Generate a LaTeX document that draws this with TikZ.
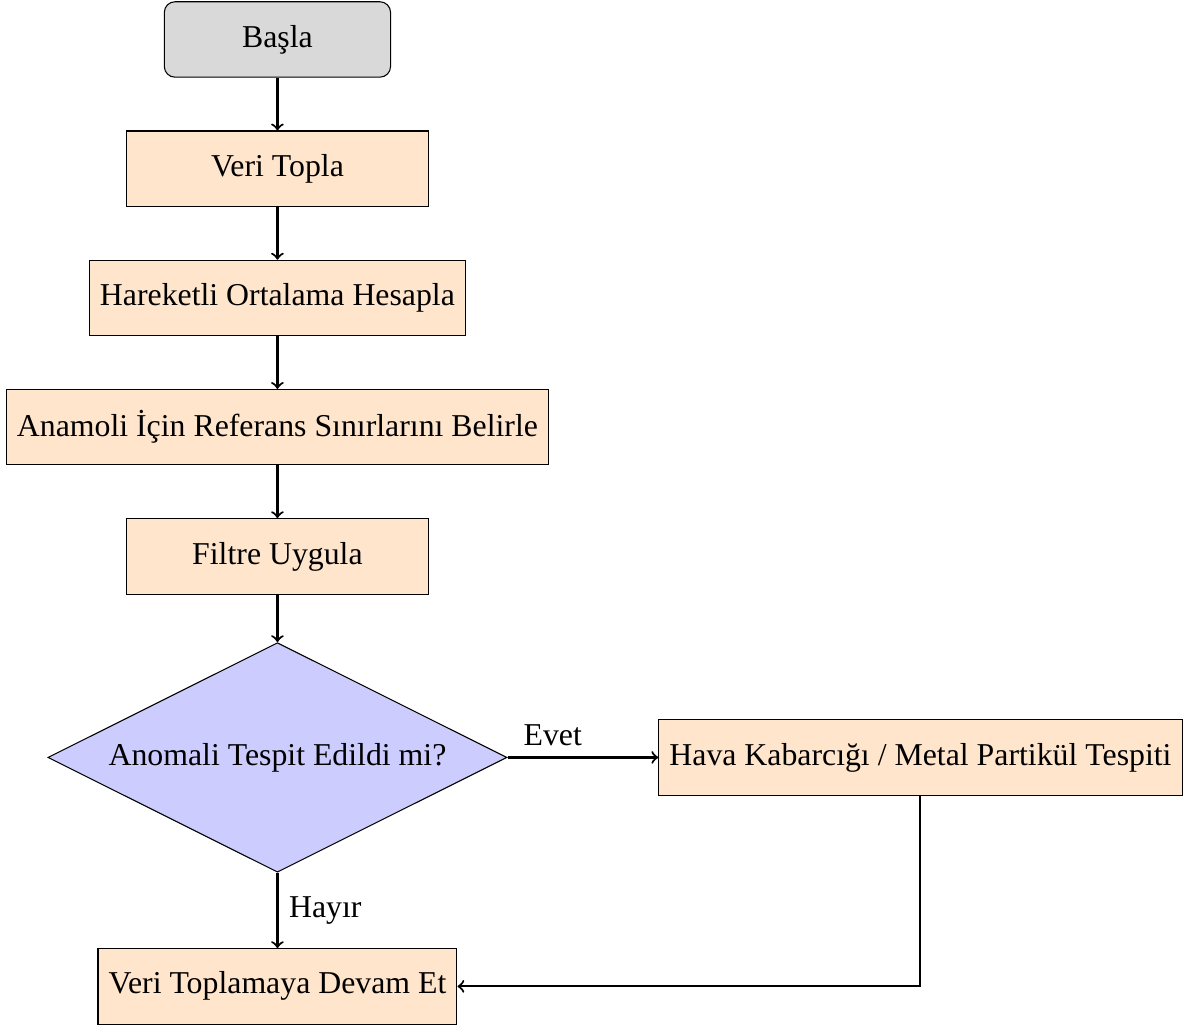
\documentclass[tikz,border=0pt,12pt]{standalone}
\usepackage{fontspec}
\setmainfont{Liberation Serif}
\usepackage{tikz}
\usetikzlibrary{positioning, shapes.geometric, arrows}

\begin{document}
\begin{tikzpicture}[node distance=0.7cm,
  startstop/.style={draw, rounded corners, fill=gray!30, minimum width=3cm, minimum height=1cm},
  process/.style={draw, rectangle, fill=orange!20, minimum width=4cm, minimum height=1cm},
  decision/.style={draw, diamond, aspect=2, fill=blue!20},
  arrow/.style={->, thick}]
\node[startstop] (basla) at (0,0) {Başla};
\node[process, below=of basla] (veri) {Veri Topla};
\node[process, below=of veri] (ortalama) {Hareketli Ortalama Hesapla};
\node[process, below=of ortalama] (sinir) {Anamoli İçin Referans Sınırlarını Belirle};
\node[process, below=of sinir] (filtre) {Filtre Uygula};
\node[decision, below=0.63cm of filtre] (karar) {Anomali Tespit Edildi mi?};
\node[process, right=2cm of karar] (tespit) {Hava Kabarcığı / Metal Partikül Tespiti};
\node[process, below=1cm of karar] (devam) {Veri Toplamaya Devam Et};

% picture margins
\useasboundingbox (-104.7pt,14.9pt) rectangle (345.5pt,-371.9pt);

\draw[arrow] (basla) -- (veri);
\draw[arrow] (veri) -- (ortalama);
\draw[arrow] (ortalama) -- (sinir);
\draw[arrow] (sinir) -- (filtre);
\draw[arrow] (filtre) -- (karar);
\draw[arrow] (karar) -- node[above, pos=0.3] {Evet} (tespit);
\draw[arrow] (karar) -- node[right] {Hayır} (devam);
\draw[arrow] (tespit.south) |- (devam.east);
\end{tikzpicture}
\end{document}
